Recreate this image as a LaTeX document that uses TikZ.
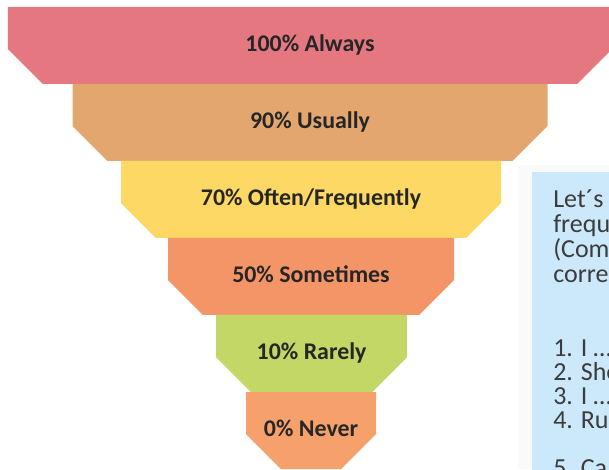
\documentclass[tikz,border=0pt]{standalone}
\usepackage{fontspec}
\setmainfont{Carlito}
\usetikzlibrary{shapes.misc}
\definecolor{alwaysred}{RGB}{229,119,128}
\definecolor{usuallyorange}{RGB}{227,166,111}
\definecolor{oftenyellow}{RGB}{253,216,101}
\definecolor{sometimessalmon}{RGB}{244,149,103}
\definecolor{rarelygreen}{RGB}{194,215,102}
\definecolor{neverorange}{RGB}{246,161,107}
\definecolor{boxblue}{RGB}{204,233,251}
\definecolor{darktext}{RGB}{38,38,38}
\tikzset{
	bandnode/.style={
			chamfered rectangle,
			chamfered rectangle corners={south west,south east},
			chamfered rectangle xsep=0.75cm,
			chamfered rectangle ysep=0.73cm,
			draw=none,
			minimum height=1.925cm,
			inner sep=0pt,
			text height=8pt,
			text depth=0pt,
			text=darktext,
			font=\fontsize{17}{20}\selectfont\bfseries
		},
	boxtext/.style={
			anchor=base west,
			align=left,
			inner sep=0pt,
			text=darktext!90,
			font=\fontsize{18.5}{17.8}\selectfont
		}
}

\begin{document}
\begin{tikzpicture}

  \clip (0,0) rectangle (15.225,11.725);
  \fill[white] (0,0) rectangle (15.225,11.725);

  % funnel
  \node[bandnode, fill=alwaysred, minimum width=15.1cm] (always) at (7.75,10.5875) {100\% Always};
  \node[bandnode, fill=usuallyorange, minimum width=11.875cm] (usually) at (7.75,8.6625) {90\% Usually};
  \node[bandnode, fill=oftenyellow, minimum width=9.5cm] (often) at (7.775,6.7375) {70\% Often/Frequently};
  \node[bandnode, fill=sometimessalmon, minimum width=7.15cm] (sometimes) at (7.775,4.8125) {50\% Sometimes};
  \node[bandnode, fill=rarelygreen, minimum width=4.775cm] (rarely) at (7.79,2.8875) {10\% Rarely};
  \node[bandnode, fill=neverorange, minimum width=3.25cm] (never) at (7.775,0.9625) {0\% Never};

  % exercise box
  \fill[black!2] (12.95,0) rectangle (15.225,7.6);
  \node[draw=none, fill=boxblue, anchor=north west, minimum width=2.5cm, minimum height=7.5cm, inner sep=0pt] (exercise) at (13.3,7.425) {};

  \node[boxtext] (intro) at (13.825,4.65) {Let´s\\frequ\\(Com\\corre};
  \node[boxtext, font=\fontsize{18.5}{16.9}\selectfont] (items) at (13.825,1.025) {1. I …\\2. She\\3. I …\\4. Ru};
  \node[boxtext] (lastitem) at (13.825,-0.175) {5. Ca};

\end{tikzpicture}
\end{document}
